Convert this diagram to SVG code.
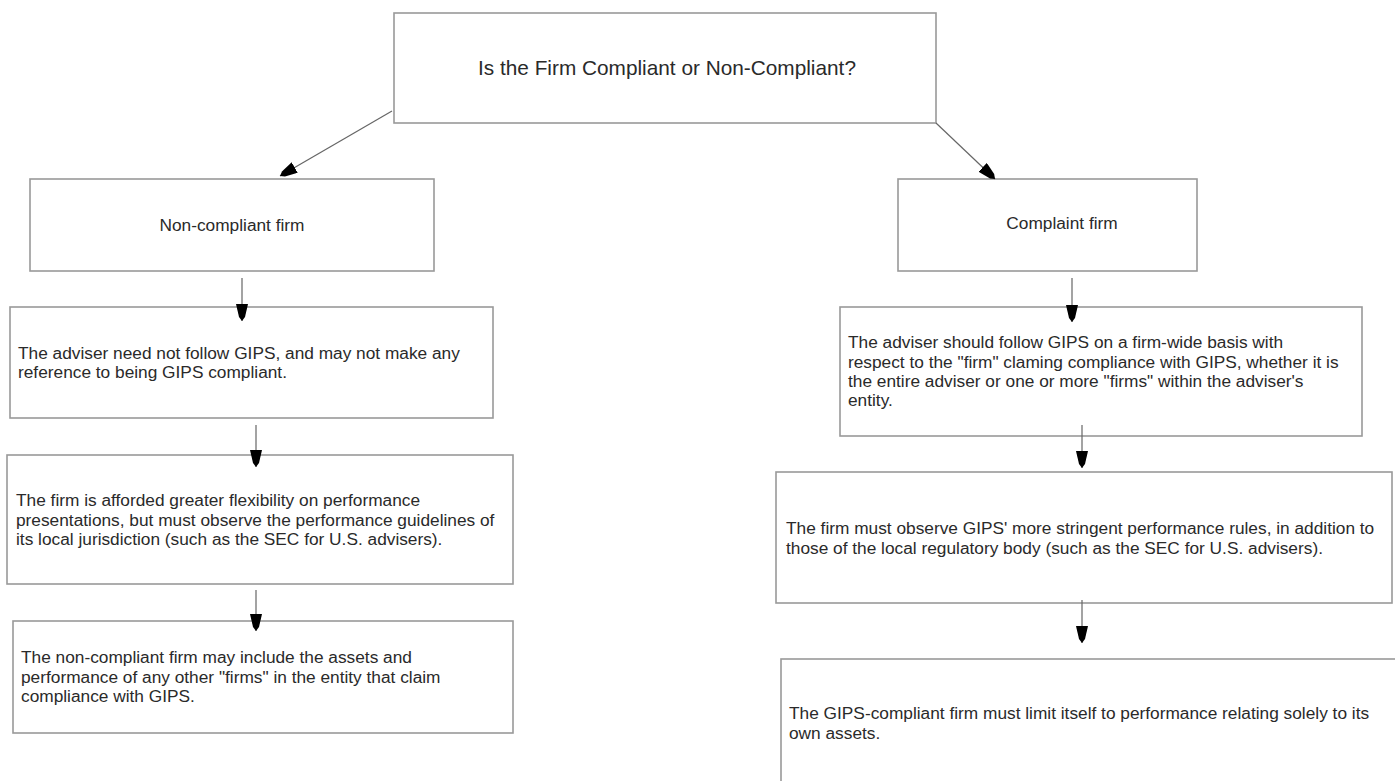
<svg xmlns="http://www.w3.org/2000/svg" width="1395" height="781" viewBox="0 0 1395 781">
<defs>
<style>
.box{fill:#fff;stroke:#999;stroke-width:1.6}
.t{font-family:"Liberation Sans",Arial,sans-serif;font-size:17.3px;fill:#2a2a2a}
.h{font-size:20.8px}
.c{text-anchor:middle}
.ln{stroke:#666;stroke-width:1.2;fill:none;marker-end:url(#ah)}
</style>
<marker id="ah" viewBox="0 0 17 12" refX="17" refY="6" markerWidth="17" markerHeight="12" markerUnits="userSpaceOnUse" orient="auto">
<path d="M0,0 L13,3 L17,6 L13,9 L0,12 z" fill="#000"/>
</marker>
</defs>
<rect width="1395" height="781" fill="#fff"/>
<g id="n0"><rect class="box" x="394" y="13" width="542" height="110"/><text class="t h c" x="667" y="75">Is the Firm Compliant or Non-Compliant?</text></g>
<g id="n1"><rect class="box" x="30" y="179" width="404" height="92"/><text class="t c" x="232" y="231">Non-compliant firm</text></g>
<g id="n2"><rect class="box" x="10" y="307" width="483" height="111"/><text class="t" x="18" y="359">The adviser need not follow GIPS, and may not make any</text><text class="t" x="18" y="378">reference to being GIPS compliant.</text></g>
<g id="n3"><rect class="box" x="7" y="455" width="506" height="129"/><text class="t" x="16" y="506">The firm is afforded greater flexibility on performance</text><text class="t" x="16" y="526">presentations, but must observe the performance guidelines of</text><text class="t" x="16" y="545">its local jurisdiction (such as the SEC for U.S. advisers).</text></g>
<g id="n4"><rect class="box" x="13" y="621" width="500" height="112"/><text class="t" x="21" y="663">The non-compliant firm may include the assets and</text><text class="t" x="21" y="683">performance of any other "firms" in the entity that claim</text><text class="t" x="21" y="702">compliance with GIPS.</text></g>
<g id="n5"><rect class="box" x="898" y="179" width="299" height="92"/><text class="t c" x="1062" y="229">Complaint firm</text></g>
<g id="n6"><rect class="box" x="840" y="307" width="522" height="129"/><text class="t" x="848" y="348">The adviser should follow GIPS on a firm-wide basis with</text><text class="t" x="848" y="368">respect to the "firm" claming compliance with GIPS, whether it is</text><text class="t" x="848" y="387">the entire adviser or one or more "firms" within the adviser's</text><text class="t" x="848" y="406">entity.</text></g>
<g id="n7"><rect class="box" x="776" y="472" width="616" height="131"/><text class="t" x="786" y="534">The firm must observe GIPS' more stringent performance rules, in addition to</text><text class="t" x="786" y="554">those of the local regulatory body (such as the SEC for U.S. advisers).</text></g>
<g id="n8"><rect class="box" x="781" y="659" width="700" height="200"/><text class="t" x="789" y="719">The GIPS-compliant firm must limit itself to performance relating solely to its</text><text class="t" x="789" y="739">own assets.</text></g>
<g id="connectors">
<line class="ln" x1="392" y1="111" x2="280" y2="176"/>
<line class="ln" x1="936" y1="123" x2="995" y2="179"/>
<line class="ln" x1="242" y1="278" x2="242" y2="321"/>
<line class="ln" x1="256" y1="425" x2="256" y2="467"/>
<line class="ln" x1="256" y1="590" x2="256" y2="631"/>
<line class="ln" x1="1072" y1="278" x2="1072" y2="322"/>
<line class="ln" x1="1082" y1="425" x2="1082" y2="468"/>
<line class="ln" x1="1082" y1="600" x2="1082" y2="643"/>
</g>
</svg>
